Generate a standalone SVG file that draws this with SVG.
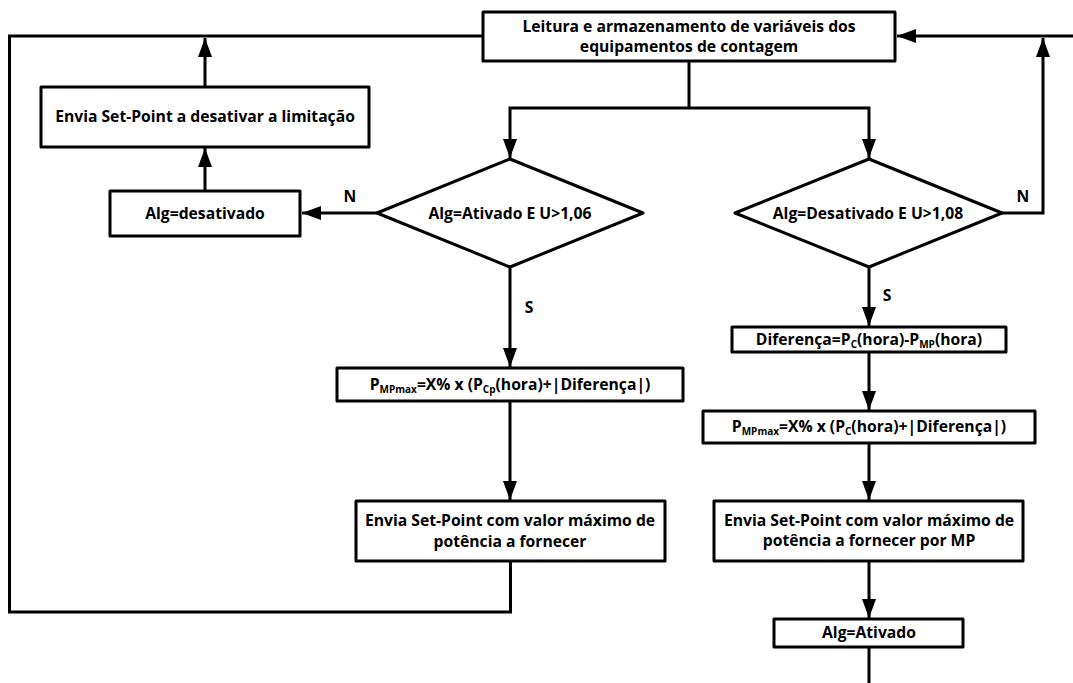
<svg xmlns="http://www.w3.org/2000/svg" width="1073" height="683" viewBox="0 0 1073 683">
<style>
.b{fill:#fff;stroke:#000;stroke-width:3;stroke-linejoin:round}
.c{fill:none;stroke:#000;stroke-width:3;stroke-linejoin:miter}
text{font-family:"Open Sans","Noto Sans","DejaVu Sans",sans-serif;font-weight:700;font-size:15.7px;fill:#000;text-anchor:middle}
.s{font-size:10px}
</style>
<defs>
<marker id="a" markerUnits="userSpaceOnUse" markerWidth="20" markerHeight="14" refX="19" refY="7" orient="auto"><path d="M0,0L19,7L0,14z" fill="#000"/></marker>
</defs>
<rect width="1073" height="683" fill="#fff"/>
<g id="connectors">
<path class="c" d="M483 36H9.500V612H510.500V561"/>
<path class="c" d="M205 87V38" marker-end="url(#a)"/>
<path class="c" d="M205 191V148" marker-end="url(#a)"/>
<path class="c" d="M377 213H302" marker-end="url(#a)"/>
<path class="c" d="M689 61V108"/>
<path class="c" d="M689 108H510V158" marker-end="url(#a)"/>
<path class="c" d="M689 108H869V158" marker-end="url(#a)"/>
<path class="c" d="M510 267V367" marker-end="url(#a)"/>
<path class="c" d="M510 401V500" marker-end="url(#a)"/>
<path class="c" d="M1002 213H1043V38" marker-end="url(#a)"/>
<path class="c" d="M1073 36H897" marker-end="url(#a)"/>
<path class="c" d="M869 267V326" marker-end="url(#a)"/>
<path class="c" d="M869 352V410" marker-end="url(#a)"/>
<path class="c" d="M869 443V500" marker-end="url(#a)"/>
<path class="c" d="M869 561V618" marker-end="url(#a)"/>
<path class="c" d="M869 647V683"/>
<text x="350" y="202">N</text>
<text x="1023" y="202">N</text>
<text x="529" y="313">S</text>
<text x="887" y="301">S</text>
</g>
<g id="n1"><rect class="b" x="483" y="12" width="412" height="49"/><text x="689" y="32">Leitura e armazenamento de variáveis dos</text><text x="689" y="52">equipamentos de contagem</text></g>
<g id="n2"><rect class="b" x="41" y="87" width="328" height="60"/><text x="205" y="122">Envia Set-Point a desativar a limitação</text></g>
<g id="n3"><rect class="b" x="110" y="191" width="190" height="45"/><text x="205" y="219">Alg=desativado</text></g>
<g id="n4"><polygon class="b" points="510,159 643,213 510,267 377,213"/><text x="510" y="219">Alg=Ativado E U&gt;1,06</text></g>
<g id="n5"><polygon class="b" points="869,159 1002,213 869,267 735,213"/><text x="868" y="219">Alg=Desativado E U&gt;1,08</text></g>
<g id="n6"><rect class="b" x="337" y="368" width="346" height="33"/><text x="510" y="390">P<tspan class="s" dy="3">MPmax</tspan><tspan dy="-3">=X% x (P</tspan><tspan class="s" dy="3">Cp</tspan><tspan dy="-3">(hora)+|Diferença|)</tspan></text></g>
<g id="n7"><rect class="b" x="356" y="501" width="309" height="60"/><text x="510" y="526">Envia Set-Point com valor máximo de</text><text x="510" y="547">potência a fornecer</text></g>
<g id="n8"><rect class="b" x="732" y="327" width="274" height="25"/><text x="869" y="345">Diferença=P<tspan class="s" dy="3">C</tspan><tspan dy="-3">(hora)-P</tspan><tspan class="s" dy="3">MP</tspan><tspan dy="-3">(hora)</tspan></text></g>
<g id="n9"><rect class="b" x="703" y="411" width="332" height="32"/><text x="869" y="432">P<tspan class="s" dy="3">MPmax</tspan><tspan dy="-3">=X% x (P</tspan><tspan class="s" dy="3">C</tspan><tspan dy="-3">(hora)+|Diferença|)</tspan></text></g>
<g id="n10"><rect class="b" x="714" y="501" width="309" height="60"/><text x="869" y="526">Envia Set-Point com valor máximo de</text><text x="869" y="546">potência a fornecer por MP</text></g>
<g id="n11"><rect class="b" x="774" y="619" width="189" height="28"/><text x="869" y="638">Alg=Ativado</text></g>
</svg>
